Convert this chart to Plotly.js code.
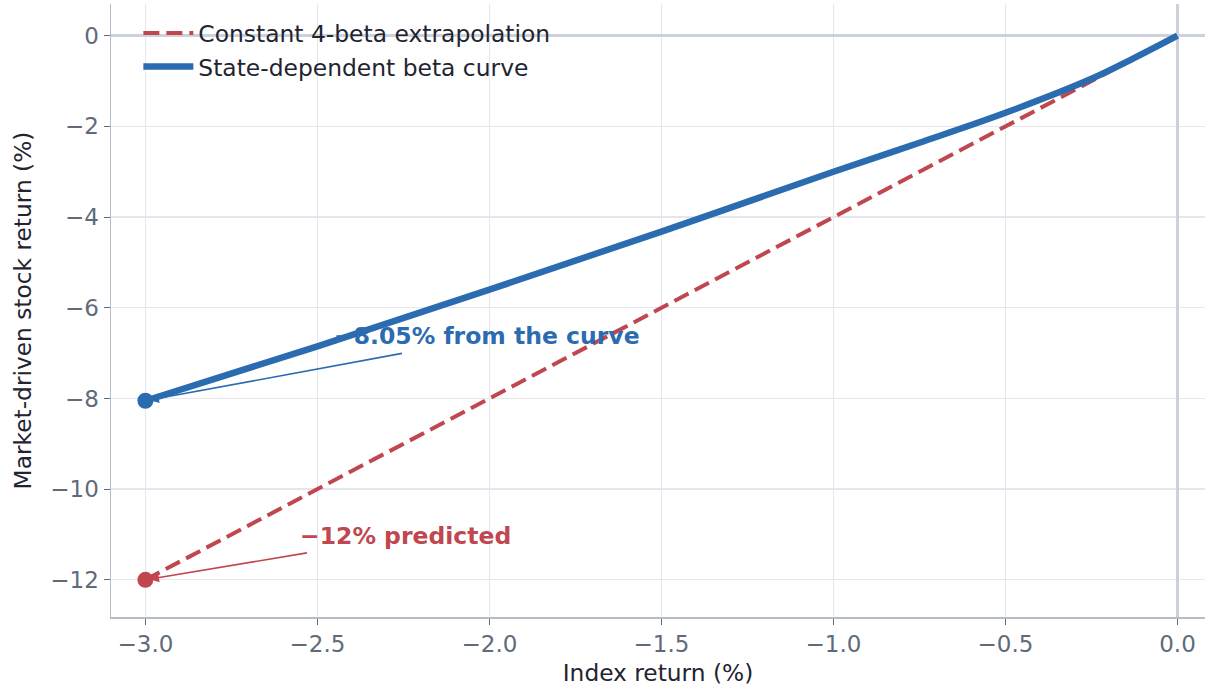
<!DOCTYPE html>
<html>
<head>
<meta charset="utf-8">
<script src="https://cdn.plot.ly/plotly-3.0.1.min.js"></script>
<style>
  html, body { margin: 0; padding: 0; background: #ffffff; }
  #chart { width: 1218px; height: 694px; }
</style>
</head>
<body>
<div id="chart"></div>
<script>
// index return (%) and the state-dependent curve
const curveX = [-3.0, -2.5, -2.0, -1.5, -1.0, -0.75, -0.5, -0.25, -0.125, 0.0];
const curveY = [-8.05, -6.85, -5.60, -4.32, -3.0, -2.36, -1.70, -0.95, -0.49, 0.0];

// constant 4-beta extrapolation
const lineX = [-3.0, 0.0];
const lineY = [-12.0, 0.0];

const seriesNames = ['Constant 4-beta extrapolation', 'State-dependent beta curve'];
const yTicks = [-12, -10, -8, -6, -4, -2, 0];
const xTicks = [-3.0, -2.5, -2.0, -1.5, -1.0, -0.5, 0.0];

const RED = '#c0474f';
const BLUE = '#2b6cb0';
const FONT = 'DejaVu Sans, Verdana, sans-serif';

const fmt = v => (v < 0 ? '\u2212' : '') + Math.abs(v);

const traces = [
    {
        x: lineX, y: lineY, name: seriesNames[0], type: 'scatter', mode: 'lines',
        line: { color: RED, width: 4, dash: '16px,7px' }
    },
    {
        x: curveX, y: curveY, name: seriesNames[1], type: 'scatter', mode: 'lines',
        line: { color: BLUE, width: 6.5, shape: 'spline', smoothing: 1 }
    },
    {
        x: [lineX[0]], y: [lineY[0]], type: 'scatter', mode: 'markers', showlegend: false,
        marker: { color: RED, size: 16 }
    },
    {
        x: [curveX[0]], y: [curveY[0]], type: 'scatter', mode: 'markers', showlegend: false,
        marker: { color: BLUE, size: 16 }
    }
];

const layout = {
    width: 1218, height: 694,
    paper_bgcolor: '#ffffff', plot_bgcolor: '#ffffff',
    margin: { l: 111, r: 13, t: 4, b: 77 },
    font: { family: FONT, color: '#1f2430' },
    showlegend: true,
    legend: {
        x: 0.025, y: 0.988, xanchor: 'left', yanchor: 'top',
        bgcolor: 'rgba(0,0,0,0)', borderwidth: 0, itemwidth: 50,
        font: { family: FONT, size: 23.4, color: '#1f2430' }
    },
    xaxis: {
        range: [-3.1, 0.08],
        tickvals: xTicks, tickformat: '.1f',
        tickfont: { family: FONT, size: 23, color: '#5f6b7a' },
        ticks: 'outside', ticklen: 6, tickcolor: '#5f6b7a', tickwidth: 1,
        showgrid: true, gridcolor: '#e4e8ee', gridwidth: 1.3,
        showline: true, linecolor: '#b4bcc8', linewidth: 1.5,
        zeroline: true, zerolinecolor: '#cbd2db', zerolinewidth: 2.5,
        title: { text: 'Index return (%)', font: { family: FONT, size: 23.3, color: '#1f2430' }, standoff: 8 }
    },
    yaxis: {
        range: [-12.82, 0.7],
        tickvals: yTicks, ticktext: yTicks.map(fmt),
        tickfont: { family: FONT, size: 23, color: '#5f6b7a' },
        ticks: 'outside', ticklen: 6, tickcolor: '#5f6b7a', tickwidth: 1,
        showgrid: true, gridcolor: '#e4e8ee', gridwidth: 1.3,
        showline: true, linecolor: '#b4bcc8', linewidth: 1.5,
        zeroline: true, zerolinecolor: '#cbd2db', zerolinewidth: 2.5,
        title: { text: 'Market-driven stock return (%)', font: { family: FONT, size: 23.3, color: '#1f2430' }, standoff: 12 }
    },
    annotations: [
        {
            x: curveX[0], y: curveY[0], xref: 'x', yref: 'y',
            ax: -2.25, ay: -7.0, axref: 'x', ayref: 'y',
            text: '', showarrow: true, arrowhead: 2, arrowsize: 1.2, arrowwidth: 1.6,
            arrowcolor: BLUE, standoff: 4
        },
        {
            x: -2.458, y: -6.63, xref: 'x', yref: 'y', xanchor: 'left', yanchor: 'middle',
            text: '<b>' + fmt(curveY[0]) + '% from the curve</b>',
            showarrow: false, font: { family: FONT, size: 23.5, color: BLUE }
        },
        {
            x: lineX[0], y: lineY[0], xref: 'x', yref: 'y',
            ax: -2.526, ay: -11.40, axref: 'x', ayref: 'y',
            text: '', showarrow: true, arrowhead: 2, arrowsize: 1.2, arrowwidth: 1.6,
            arrowcolor: RED, standoff: 4
        },
        {
            x: -2.555, y: -11.03, xref: 'x', yref: 'y', xanchor: 'left', yanchor: 'middle',
            text: '<b>' + fmt(lineY[0]) + '% predicted</b>',
            showarrow: false, font: { family: FONT, size: 23.5, color: RED }
        }
    ]
};

Plotly.newPlot('chart', traces, layout, { displayModeBar: false, staticPlot: true });
</script>
</body>
</html>
